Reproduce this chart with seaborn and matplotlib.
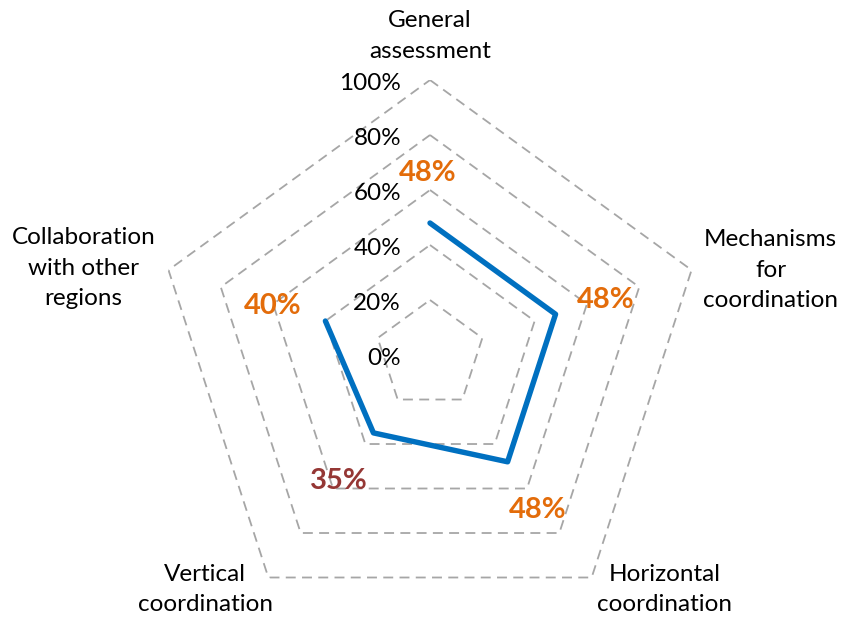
import matplotlib.pyplot as plt
import numpy as np
import pandas as pd
import seaborn as sns

categories = ['General\nassessment', 'Mechanisms\nfor\ncoordination', 'Horizontal\ncoordination',
              'Vertical\ncoordination', 'Collaboration\nwith other\nregions']
scores = [0.48, 0.48, 0.48, 0.35, 0.40]
score_labels = ['48%', '48%', '48%', '35%', '40%']
label_colors = ['#E36C0A', '#E36C0A', '#E36C0A', '#953735', '#E36C0A']
grid_levels = [0.0, 0.2, 0.4, 0.6, 0.8, 1.0]
grid_labels = ['0%', '20%', '40%', '60%', '80%', '100%']

sns.set_theme(style='white')
plt.rcParams['font.family'] = ['Lato', 'DejaVu Sans']

fig = plt.figure(figsize=(8.42, 6.17), dpi=100)
ax = fig.add_axes([0.1841, -0.0211, 0.6532, 0.8914], projection='polar')
ax.set_theta_offset(np.pi / 2)
ax.set_theta_direction(-1)
ax.set_ylim(0, 1)
ax.grid(False)
ax.spines['polar'].set_visible(False)
ax.set_xticks([])
ax.set_yticks([])
ax.patch.set_alpha(0)

n = len(categories)
angles = np.arange(n) * 2 * np.pi / n
closed = np.append(angles, angles[0])

# pentagon gridlines
for lvl in grid_levels[1:]:
    ax.plot(closed, [lvl] * (n + 1), color='#A6A6A6', lw=1.3, ls=(0, (5.5, 3.5)), zorder=1)

df = pd.DataFrame({'angle': closed, 'score': scores + scores[:1]})
sns.lineplot(data=df, x='angle', y='score', sort=False, ax=ax, color='#0070C0', lw=3.9, zorder=3)
ax.set_xlabel('')
ax.set_ylabel('')

# value axis labels
for lvl, lab in zip(grid_levels, grid_labels):
    ax.annotate(lab, xy=(0, lvl), xytext=(-29, -3), textcoords='offset pixels',
                ha='right', va='center', fontsize=17.5, color='black')

# category labels
cat_offsets = [(0, 44), (79, 0), (73, -12), (-63, -12), (-85, 2)]
for a, cat, off in zip(angles, categories, cat_offsets):
    ax.annotate(cat, xy=(a, 1.0), xytext=off, textcoords='offset pixels',
                ha='center', va='center', fontsize=17.5, color='black', linespacing=1.55)

# data labels
val_offsets = [(-2, 50), (50, 14), (30, -48), (-35, -48), (-53, 15)]
for a, v, lab, c, off in zip(angles, scores, score_labels, label_colors, val_offsets):
    ax.annotate(lab, xy=(a, v), xytext=off, textcoords='offset pixels',
                ha='center', va='center', fontsize=21, fontweight='bold', color=c)

fig.savefig('out.png', dpi=100)
